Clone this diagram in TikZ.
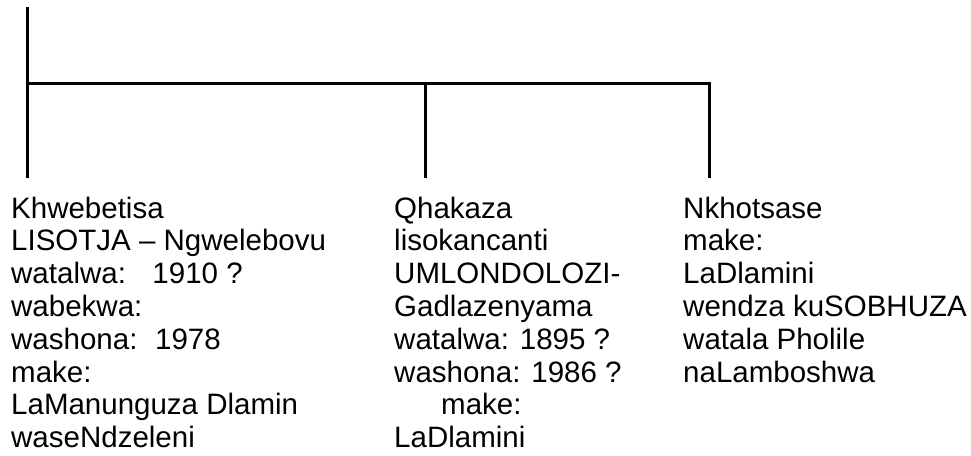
\documentclass[tikz,border=0pt]{standalone}
\usepackage{fontspec}
\setmainfont{Liberation Sans}

\begin{document}
\begin{tikzpicture}[x=1pt,y=1pt,
  line/.style={draw=black,line width=3pt},
  person/.style={anchor=base west,inner sep=0pt,align=left,font=\fontsize{29.5}{32.8}\selectfont},
]
\useasboundingbox (0,0) rectangle (971,-455);
\coordinate (root) at (27,-7);
\coordinate (j1) at (27,-83);
\coordinate (j2) at (425,-83);
\coordinate (j3) at (709,-83);
\coordinate (e1) at (27,-178);
\coordinate (e2) at (425,-178);
\coordinate (e3) at (709,-178);
\draw[line] (root)--(e1);
\draw[line] (j1)--(j3)--(e3);
\draw[line] (j2)--(e2);
% base anchor sits on the last line
\node[person] (khwebetisa) at (11,-447.6)
  {Khwebetisa\\LISOTJA -- Ngwelebovu\\watalwa:\hspace{0.9em}1910 ?\\wabekwa:\\washona:\hspace{0.6em}1978\\make:\\LaManunguza Dlamin\\waseNdzeleni};
\node[person] (qhakaza) at (394,-447.6)
  {Qhakaza\\lisokancanti\\UMLONDOLOZI-\\Gadlazenyama\\watalwa: 1895 ?\\washona: 1986 ?\\\hspace{47pt}make:\\LaDlamini};
\node[person] (nkhotsase) at (683,-382)
  {Nkhotsase\\make:\\LaDlamini\\wendza kuSOBHUZA\\watala Pholile\\naLamboshwa};
\end{tikzpicture}
\end{document}
